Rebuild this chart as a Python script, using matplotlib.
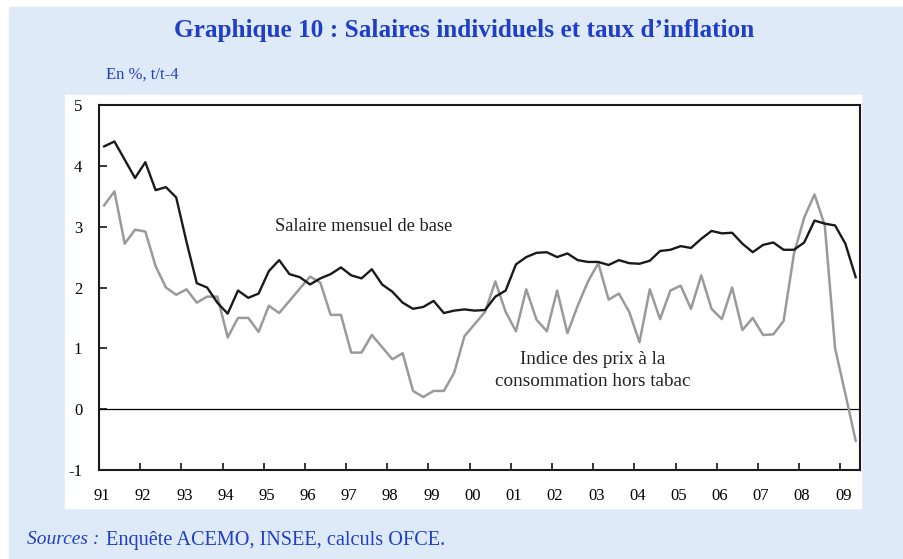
import matplotlib.pyplot as plt
import matplotlib.transforms as mtransforms
from matplotlib.patches import Rectangle
import numpy as np

# Données trimestrielles 1991T1 - 2009T2 (glissement t/t-4, en %)
salaire_base = [
    4.32, 4.40, 4.10, 3.80,   # 1991
    4.06, 3.60, 3.65, 3.48,   # 1992
    2.75, 2.07, 2.00, 1.75,   # 1993
    1.57, 1.95, 1.83, 1.90,   # 1994
    2.27, 2.45, 2.22, 2.17,   # 1995
    2.05, 2.15, 2.22, 2.33,   # 1996
    2.20, 2.15, 2.30, 2.05,   # 1997
    1.93, 1.75, 1.65, 1.68,   # 1998
    1.78, 1.58, 1.62, 1.64,   # 1999
    1.62, 1.63, 1.85, 1.95,   # 2000
    2.38, 2.50, 2.57, 2.58,   # 2001
    2.50, 2.56, 2.45, 2.42,   # 2002
    2.42, 2.37, 2.45, 2.40,   # 2003
    2.39, 2.44, 2.60, 2.62,   # 2004
    2.68, 2.65, 2.80, 2.93,   # 2005
    2.89, 2.90, 2.72, 2.58,   # 2006
    2.70, 2.74, 2.62, 2.62,   # 2007
    2.74, 3.10, 3.05, 3.02,   # 2008
    2.72, 2.17,               # 2009
]
prix_hors_tabac = [
    3.35, 3.58, 2.72, 2.95,
    2.92, 2.35, 2.00, 1.88,
    1.97, 1.75, 1.85, 1.85,
    1.18, 1.50, 1.50, 1.27,
    1.70, 1.58, 1.78, 1.98,
    2.18, 2.08, 1.55, 1.55,
    0.93, 0.93, 1.22, 1.02,
    0.82, 0.92, 0.30, 0.20,
    0.30, 0.30, 0.60, 1.20,
    1.40, 1.60, 2.10, 1.60,
    1.28, 1.97, 1.47, 1.28,
    1.95, 1.25, 1.70, 2.10,
    2.40, 1.80, 1.90, 1.60,
    1.10, 1.97, 1.48, 1.95,
    2.03, 1.65, 2.20, 1.65,
    1.48, 2.00, 1.30, 1.50,
    1.22, 1.23, 1.45, 2.55,
    3.15, 3.53, 3.02, 1.00,
    0.25, -0.52,
]
annees = list(range(1991, 2010))
etiquettes = ["%02d" % (a % 100) for a in annees]

# milieu de chaque trimestre
t = 1991 + (np.arange(len(salaire_base)) + 0.5) / 4

BLEU_FOND = "#dfeaf8"
BLEU_TEXTE = "#1f3fc8"
serif = ["Liberation Serif", "DejaVu Serif"]

fig = plt.figure(figsize=(9.04, 5.59), dpi=100)
W, H = 904, 559

def px_rect(x0, y0, x1, y1, color):
    # rectangle en pixels (origine en haut à gauche)
    fig.patches.append(Rectangle((x0 / W, 1 - y1 / H), (x1 - x0) / W, (y1 - y0) / H,
                                 transform=fig.transFigure, color=color, zorder=-2))

px_rect(9, 7, 904, 558, BLEU_FOND)
px_rect(65, 95, 861, 508, "white")

ax = fig.add_axes([99 / W, 1 - 470 / H, 761 / W, 365 / H])
ax.set_facecolor("white")

ax.plot(t, prix_hors_tabac, color="#9a9a9a", linewidth=1.8, zorder=3)
ax.plot(t, salaire_base, color="#1a1a1a", linewidth=1.7, zorder=4)
ax.axhline(0, color="black", linewidth=0.9, zorder=2)

ax.set_xlim(1991, 2009.48)
ax.set_ylim(-1, 5)
ax.set_yticks(range(-1, 6))
ax.set_yticklabels([str(v) for v in range(-1, 6)], fontfamily=serif, fontsize=12)
ax.set_xticks(annees)
ax.set_xticklabels(etiquettes, fontfamily=serif, fontsize=12)
ax.tick_params(axis="both", direction="in", length=6, width=1.1, colors="black")
ax.tick_params(axis="y", pad=12)
ax.tick_params(axis="x", pad=13, length=5)

# décalage léger des étiquettes de l'axe x vers la droite
decal = mtransforms.ScaledTranslation(3 / 100, 0, fig.dpi_scale_trans)
for lab in ax.get_xticklabels():
    lab.set_transform(lab.get_transform() + decal)

for s in ax.spines.values():
    s.set_linewidth(1.5)
    s.set_color("#1a1a1a")

ax.text(1997.42, 3.0, "Salaire mensuel de base", fontfamily=serif, fontsize=13.3,
        ha="center", va="center", color="#222222")
ax.text(2002.99, 0.64, "Indice des prix à la\nconsommation hors tabac", fontfamily=serif,
        fontsize=13.8, ha="center", va="center", linespacing=1.4, color="#222222")

fig.text(464 / W, 1 - 30 / H, "Graphique 10 : Salaires individuels et taux d\u2019inflation",
         fontfamily=serif, fontsize=18.2, fontweight="bold", color=BLEU_TEXTE,
         ha="center", va="center")
fig.text(106 / W, 1 - 75 / H, "En %, t/t-4", fontfamily=serif, fontsize=12,
         color=BLEU_TEXTE, ha="left", va="center")
fig.text(27 / W, 1 - 540 / H, "Sources :", fontfamily=serif, fontsize=14,
         fontstyle="italic", color=BLEU_TEXTE, ha="left", va="center")
fig.text(106 / W, 1 - 540 / H, "Enquête ACEMO, INSEE, calculs OFCE.", fontfamily=serif,
         fontsize=14.6, color=BLEU_TEXTE, ha="left", va="center")

fig.savefig("out.png", dpi=100)
